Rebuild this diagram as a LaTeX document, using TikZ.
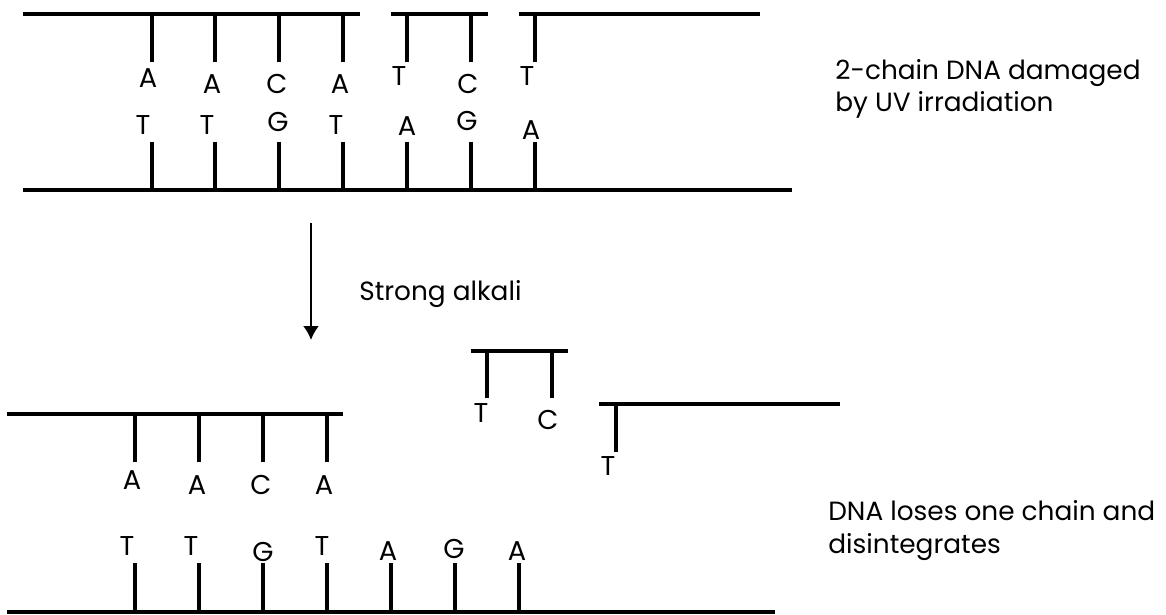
\documentclass[tikz,border=0pt]{standalone}
\usepackage{fontspec}
\setmainfont{Poppins}
\usetikzlibrary{arrows.meta}
\tikzset{%
	>={Latex[width=3.2mm,length=2.8mm]},
	% Specifications for style of strands, bases and notes:
	strand/.style = {line width=1.9pt},
	nucl/.style = {inner sep=0pt, anchor=center, font=\fontsize{15.5}{18.5}\selectfont},
	note/.style = {inner sep=0pt, anchor=base west, align=left,
		font=\fontsize{15}{18.7}\selectfont}
}

\begin{document}
\begin{tikzpicture}[x=0.02cm, y=-0.02cm]
	\useasboundingbox (0,0) rectangle (1166,615);
	% Damaged double strand (top)
	\draw[strand] (23,14) -- (360,14);
	\draw[strand] (391,14) -- (488,14);
	\draw[strand] (519,14) -- (760,14);
	\draw[strand] (23,190) -- (792,190);
	\draw[strand] (152,14) -- (152,62);
	\draw[strand] (215,14) -- (215,62);
	\draw[strand] (279,14) -- (279,62);
	\draw[strand] (343,14) -- (343,62);
	\draw[strand] (407,14) -- (407,62);
	\draw[strand] (471,14) -- (471,62);
	\draw[strand] (535,14) -- (535,62);
	\draw[strand] (152,142) -- (152,190);
	\draw[strand] (215,142) -- (215,190);
	\draw[strand] (279,142) -- (279,190);
	\draw[strand] (343,142) -- (343,190);
	\draw[strand] (407,142) -- (407,190);
	\draw[strand] (471,142) -- (471,190);
	\draw[strand] (535,142) -- (535,190);
	\node (up1) [nucl] at (148,78) {A};
	\node (up2) [nucl] at (212,84) {A};
	\node (up3) [nucl] at (277,84) {C};
	\node (up4) [nucl] at (340,84) {A};
	\node (up5) [nucl] at (399,76) {T};
	\node (up6) [nucl] at (468,84) {C};
	\node (up7) [nucl] at (527,76) {T};
	\node (dn1) [nucl] at (143,125) {T};
	\node (dn2) [nucl] at (207,125) {T};
	\node (dn3) [nucl] at (278,122) {G};
	\node (dn4) [nucl] at (336,125) {T};
	\node (dn5) [nucl] at (407,126) {A};
	\node (dn6) [nucl] at (467,121) {G};
	\node (dn7) [nucl] at (531,130) {A};
	\node (damaged) [note] at (835,112) {2-chain DNA damaged\\by UV irradiation};

	% Treatment
	\coordinate (alkTop) at (311,223);
	\coordinate (alkEnd) at (311,340);
	\draw[->, line width=1.2pt] (alkTop) -- (alkEnd);
	\node (alkali) [note] at (359,300) {Strong alkali};

	% Broken DNA (bottom)
	\draw[strand] (7,414) -- (343,414);
	\draw[strand] (7,612) -- (775,612);
	\draw[strand] (135,414) -- (135,462);
	\draw[strand] (199,414) -- (199,462);
	\draw[strand] (263,414) -- (263,462);
	\draw[strand] (327,414) -- (327,462);
	\draw[strand] (135,563) -- (135,612);
	\draw[strand] (199,563) -- (199,612);
	\draw[strand] (263,563) -- (263,612);
	\draw[strand] (327,563) -- (327,612);
	\draw[strand] (391,563) -- (391,612);
	\draw[strand] (455,563) -- (455,612);
	\draw[strand] (519,563) -- (519,612);
	\draw[strand] (471,351) -- (568,351);
	\draw[strand] (487,351) -- (487,398);
	\draw[strand] (552,351) -- (552,398);
	\draw[strand] (599,404) -- (840,404);
	\draw[strand] (616,404) -- (616,452);
	\node (lu1) [nucl] at (132,480) {A};
	\node (lu2) [nucl] at (197,485) {A};
	\node (lu3) [nucl] at (261,485) {C};
	\node (lu4) [nucl] at (324,485) {A};
	\node (ld1) [nucl] at (127,546) {T};
	\node (ld2) [nucl] at (191,546) {T};
	\node (ld3) [nucl] at (263,552) {G};
	\node (ld4) [nucl] at (322,546) {T};
	\node (ld5) [nucl] at (388,551) {A};
	\node (ld6) [nucl] at (454,549) {G};
	\node (ld7) [nucl] at (517,551) {A};
	\node (fr1) [nucl] at (481,413) {T};
	\node (fr2) [nucl] at (548,420) {C};
	\node (fr3) [nucl] at (608,466) {T};
	\node (lost) [note] at (828,553) {DNA loses one chain and\\disintegrates};
\end{tikzpicture}
\end{document}
